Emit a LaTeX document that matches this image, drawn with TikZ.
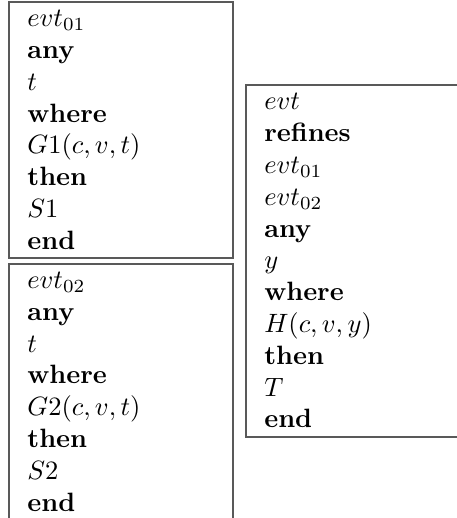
\documentclass[tikz,border=0pt]{standalone}
\usetikzlibrary{positioning}
\begin{document}
\begin{tikzpicture}[evtbox/.style={draw=black!65,line width=0.7pt,align=left,inner xsep=7pt,inner ysep=0pt,text width=70.5pt,minimum height=96.6pt}]
	\useasboundingbox (0,0) rectangle (172.1pt,195.5pt);
	\node[evtbox,anchor=north west] (evt01) at (3pt,195.1pt) {$evt_{01}$\\ \textbf{any}\\ $t$\\ \textbf{where}\\ $G1(c,v,t)$\\ \textbf{then}\\ $S1$\\ \textbf{end}};
	\node[evtbox,below=1.5pt of evt01] (evt02) {$evt_{02}$\\ \textbf{any}\\ $t$\\ \textbf{where}\\ $G2(c,v,t)$\\ \textbf{then}\\ $S2$\\ \textbf{end}};
	\node[evtbox,text width=66pt,minimum height=132.8pt,right=4.2pt of evt01.south east,yshift=-0.75pt] (evt) {$evt$\\ \textbf{refines}\\ $evt_{01}$\\ $evt_{02}$\\ \textbf{any}\\ $y$\\ \textbf{where}\\ $H(c,v,y)$\\ \textbf{then}\\ $T$\\ \textbf{end}};
	%\node at (evt.north) {};
\end{tikzpicture}
\end{document}
